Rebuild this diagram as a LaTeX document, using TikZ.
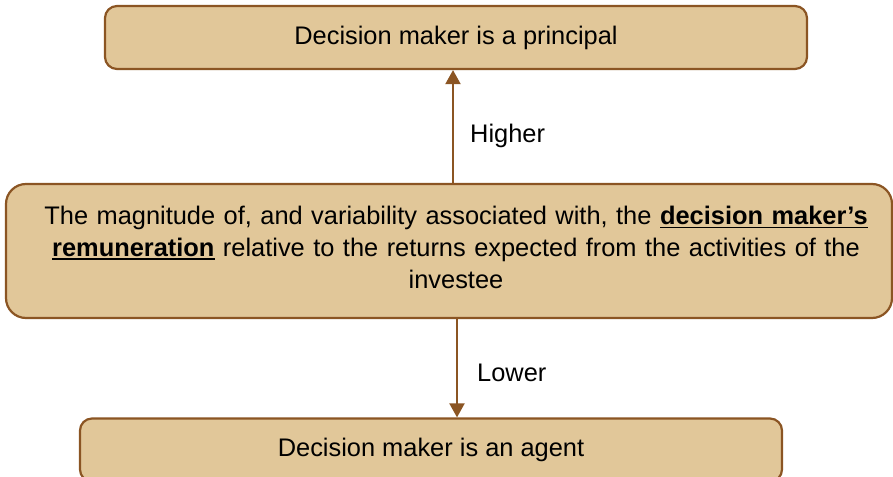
\documentclass[tikz,border=0pt]{standalone}
\usepackage{fontspec}
\setmainfont{Liberation Sans}
\usetikzlibrary{arrows.meta}
\definecolor{boxfill}{HTML}{E1C799}
\definecolor{boxline}{HTML}{8B5523}
\newcommand\myul[1]{\leavevmode\setbox0\hbox{#1}\rlap{\rule[-4pt]{\wd0}{1.8pt}}\box0\relax}
\tikzset{
  box/.style={draw=boxline, fill=boxfill, line width=2.2bp, rounded corners=12bp, align=center, inner sep=0pt, font=\fontsize{25.5}{32}\selectfont},
  arr/.style={draw=boxline, line width=2bp, -{Triangle[length=14bp,width=15bp]}},
  lbl/.style={anchor=west, inner sep=0pt, font=\fontsize{25.5}{32}\selectfont}
}
\begin{document}
\begin{tikzpicture}[x=1bp,y=-1bp]
\useasboundingbox (0,0) rectangle (893,477);
\clip (0,0) rectangle (893,477);
\node[box, minimum width=702bp, minimum height=63bp] (top) at (456,37.5) {Decision maker is a principal};
\node[box, minimum width=886bp, minimum height=134bp, rounded corners=20bp, text width=870bp] (mid) at (449,251)
  {\hspace*{14bp}The magnitude of, and variability associated with, the \myul{\textbf{decision maker’s}}\\
   \hspace*{14bp}\myul{\textbf{remuneration}} relative to the returns expected from the activities of the\\
   \hspace*{14bp}investee\\[-24bp]\mbox{}};
\node[box, minimum width=702bp, minimum height=63bp] (bot) at (431,450) {Decision maker is an agent};
\coordinate (ua) at (453,0);
\coordinate (da) at (457,0);
\draw[arr] (mid.north -| ua) -- (top.south -| ua);
\draw[arr] (mid.south -| da) -- (bot.north -| da);
\node[lbl] (hi) at (470,136) {Higher};
\node[lbl] (lo) at (477,373) {Lower};
\end{tikzpicture}
\end{document}
